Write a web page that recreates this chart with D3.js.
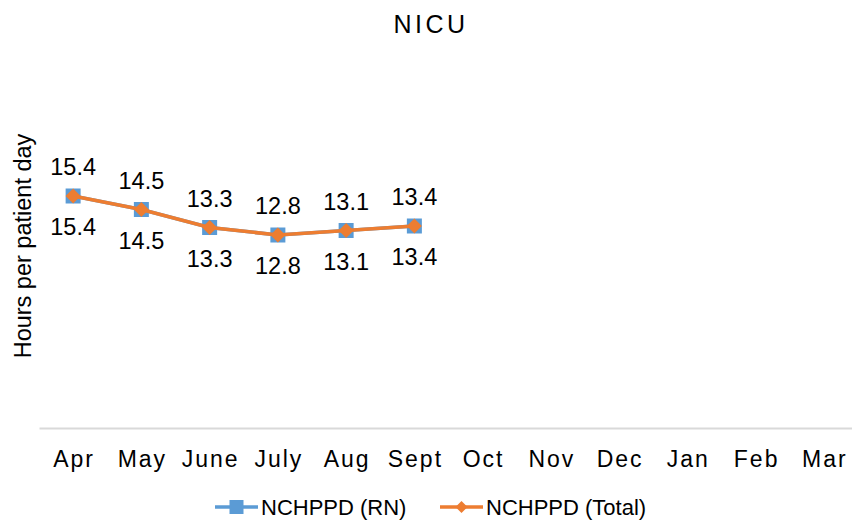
<!DOCTYPE html>
<html><head><meta charset="utf-8">
<script src="https://cdn.jsdelivr.net/npm/d3@7"></script>
<style>body{margin:0;background:#fff}svg{display:block}</style>
</head><body>
<script>
const months = ["Apr","May","June","July","Aug","Sept","Oct","Nov","Dec","Jan","Feb","Mar"];
const rnValues = [15.4,14.5,13.3,12.8,13.1,13.4];
const totalValues = [15.4,14.5,13.3,12.8,13.1,13.4];
const seriesNames = ["NCHPPD (RN)","NCHPPD (Total)"];
const colors = ["#5B9BD5","#ED7D31"];

const W=852,H=521;
const FONT="Liberation Sans, Arial, sans-serif";
const svg=d3.select("body").append("svg").attr("width",W).attr("height",H);
const x=d3.scaleBand().domain(months).range([39,858]);
const y=d3.scaleLinear().domain([0,20]).range([427,127]);
const cx=m=>x(m)+x.bandwidth()/2;
const diamond=r=>`M0,${-r}L${r},0L0,${r}L${-r},0Z`;

svg.append("text").attr("x",431).attr("y",33).attr("text-anchor","middle")
 .attr("font-family",FONT).attr("font-size",25).attr("letter-spacing",3.5).attr("fill","#000").text("NICU");

svg.append("text").attr("transform","translate(31,246) rotate(-90)").attr("text-anchor","middle")
 .attr("font-family",FONT).attr("font-size",23.5).attr("fill","#000").text("Hours per patient day");

const xa=svg.append("g").attr("transform","translate(0,428)").call(d3.axisBottom(x).tickSize(0).tickPadding(23));
xa.select(".domain").attr("stroke","#d9d9d9").attr("stroke-width",2);
xa.selectAll("text").attr("font-family",FONT).attr("font-size",23).attr("letter-spacing",2).attr("dx",1).attr("fill","#000");

const line=d3.line().x((d,i)=>cx(months[i])).y(d=>y(d));
svg.append("path").datum(rnValues).attr("d",line).attr("fill","none").attr("stroke",colors[0]).attr("stroke-width",3.5);
svg.selectAll(".sq").data(rnValues).join("rect").attr("x",(d,i)=>cx(months[i])-7.5).attr("y",d=>y(d)-7.5).attr("width",15).attr("height",15).attr("fill",colors[0]);
svg.append("path").datum(totalValues).attr("d",line).attr("fill","none").attr("stroke",colors[1]).attr("stroke-width",3.5);
svg.selectAll(".dm").data(totalValues).join("path").attr("d",diamond(7.5)).attr("transform",(d,i)=>`translate(${cx(months[i])},${y(d)})`).attr("fill",colors[1]);

svg.selectAll(".la").data(totalValues).join("text").attr("x",(d,i)=>cx(months[i])).attr("y",d=>y(d)-21)
 .attr("text-anchor","middle").attr("font-family",FONT).attr("font-size",23.5).attr("fill","#000").text(d=>d.toFixed(1));
svg.selectAll(".lb").data(rnValues).join("text").attr("x",(d,i)=>cx(months[i])).attr("y",d=>y(d)+39)
 .attr("text-anchor","middle").attr("font-family",FONT).attr("font-size",23.5).attr("fill","#000").text(d=>d.toFixed(1));

const leg=[{x:215,c:colors[0],s:"sq",t:seriesNames[0]},{x:440,c:colors[1],s:"dm",t:seriesNames[1]}];
leg.forEach(l=>{
  const g=svg.append("g");
  g.append("line").attr("x1",l.x).attr("x2",l.x+43).attr("y1",507).attr("y2",507).attr("stroke",l.c).attr("stroke-width",3.5);
  if(l.s==="sq") g.append("rect").attr("x",l.x+14.5).attr("y",500).attr("width",14).attr("height",14).attr("fill",l.c);
  else g.append("path").attr("d",diamond(6)).attr("transform",`translate(${l.x+21.5},507)`).attr("fill",l.c);
  g.append("text").attr("x",l.x+46).attr("y",515).attr("font-family",FONT).attr("font-size",22).attr("fill","#000").text(l.t);
});
</script>
</body></html>
